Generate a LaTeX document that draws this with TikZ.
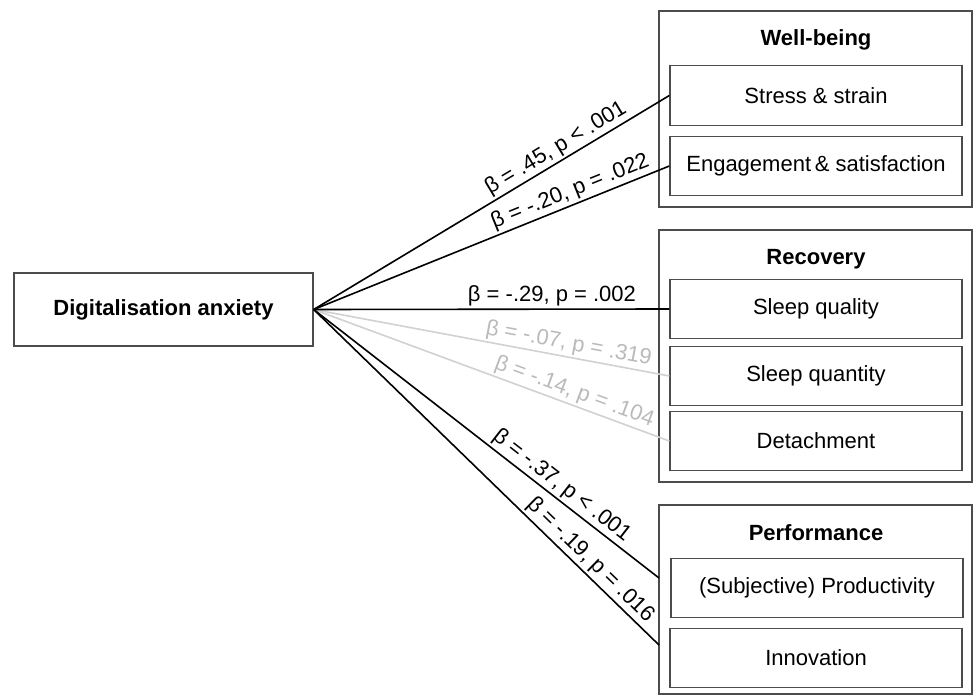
\documentclass[tikz,border=0pt]{standalone}
\usepackage{fontspec}
\setmainfont{Liberation Sans}
\begin{document}
\begin{tikzpicture}[x=1pt,y=-1pt,
  every node/.style={font=\fontsize{22}{26}\selectfont},
  box/.style={draw=black!70, line width=1.3pt, fill=white, inner sep=0pt},
  inner/.style={box, minimum width=292pt, minimum height=59.5pt},
  outer/.style={draw=black!70, line width=1.3pt, inner sep=0pt, minimum width=313pt},
  title/.style={font=\fontsize{22}{26}\selectfont\bfseries},
  sig/.style={draw=black, line width=1.6pt},
  nsig/.style={draw=black!18, line width=1.6pt},
  lab/.style={above, sloped, inner sep=2pt, text=black},
  nlab/.style={above, sloped, inner sep=2pt, text=black!27}]
\useasboundingbox (0,0) rectangle (973,695);
% outer groups
\node[outer, minimum height=196pt] (wb) at (815.5,109) {};
\node[outer, minimum height=252pt] (rec) at (815.5,356) {};
\node[outer, minimum height=189pt] (perf) at (815.5,599.5) {};
\node[title] (twb) at (816,40) {Well-being};
\node[title] (trec) at (816,259) {Recovery};
\node[title] (tperf) at (816,533) {Performance};
% inner boxes
\node[inner] (stress) at (816,95.5) {Stress \& strain};
\node[inner] (eng) at (816,166) {Engagement\,\& satisfaction};
\node[inner] (sq) at (816,309) {Sleep quality};
\node[inner] (squ) at (816,376) {Sleep quantity};
\node[inner] (det) at (816,441) {Detachment};
\node[inner] (prod) at (817,588) {(Subjective) Productivity};
\node[inner] (inno) at (816,658) {Innovation};
% predictor
\node[box, minimum width=299pt, minimum height=73pt] (da) at (163.5,309.5) {\bfseries Digitalisation anxiety};
\coordinate (pin1) at (659,578);
\coordinate (pin2) at (659,645);
% paths
\draw[nsig] (da.east) -- (squ.west) node[nlab, pos=0.71] {β = -.07, p = .319};
\draw[nsig] (da.east) -- (det.west) node[nlab, pos=0.72] {β = -.14, p = .104};
\draw[sig] (da.east) -- (stress.west) node[lab, pos=0.70] {β = .45, p < .001};
\draw[sig] (da.east) -- (eng.west) node[lab, pos=0.735] {β = -.20, p = .022};
\draw[sig] (da.east) -- (sq.west) node[lab, pos=0.67] {β = -.29, p = .002};
\draw[sig] (da.east) -- (pin1) node[lab, pos=0.695] {β = -.37, p < .001};
\draw[sig] (da.east) -- (pin2) node[lab, pos=0.775] {β = -.19, p = .016};
\end{tikzpicture}
\end{document}
